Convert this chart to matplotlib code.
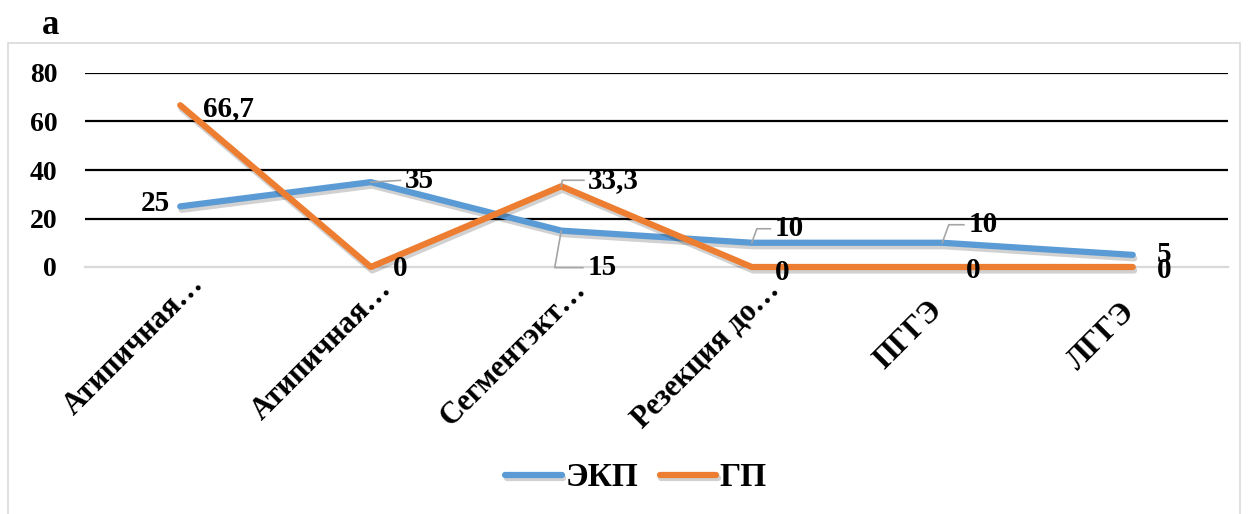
import matplotlib.pyplot as plt
import matplotlib.patheffects as pe
from matplotlib.patches import Rectangle
import matplotlib.transforms as mtransforms

plt.rcParams['font.family'] = ['Liberation Serif', 'DejaVu Serif']
plt.rcParams['font.weight'] = 'bold'

categories = ["Атипичная…", "Атипичная…", "Сегментэкт…", "Резекция до…", "ПГГЭ", "ЛГГЭ"]
ekp_values = [25, 35, 15, 10, 10, 5]
gp_values = [66.7, 0, 33.3, 0, 0, 0]
ekp_labels = ["25", "35", "15", "10", "10", "5"]
gp_labels = ["66,7", "0", "33,3", "0", "0", "0"]
y_ticks = [0, 20, 40, 60, 80]

blue = '#5B9BD5'
orange = '#ED7D31'

fig = plt.figure(figsize=(12.48, 5.14), dpi=100)
# outer chart frame
fig.patches.append(Rectangle((8 / 1248, -0.01), 1232 / 1248, 1 - 43 / 514 + 0.01,
                             transform=fig.transFigure, fill=False,
                             edgecolor='#D9D9D9', linewidth=1.2))
fig.text(51 / 1248, 1 - 26 / 514, "a", fontsize=25, fontweight='bold', ha='center', va='center')

ax = fig.add_axes([85 / 1248, 1 - 267 / 514, 1143 / 1248, 194 / 514])
x = list(range(len(categories)))
ax.set_xlim(-0.5, len(categories) - 0.5)
ax.set_ylim(0, 80)

for v in y_ticks[1:]:
    ax.axhline(v, color='black', linewidth=1.6, zorder=1)
ax.axhline(0, color='#D9D9D9', linewidth=1.6, zorder=1, clip_on=False)

shadow = [pe.SimpleLineShadow(offset=(1, -2.5), shadow_color='black', alpha=0.18), pe.Normal()]
ax.plot(x, ekp_values, color=blue, linewidth=4.5, solid_capstyle='round', label='ЭКП',
        clip_on=False, zorder=3, path_effects=shadow)
ax.plot(x, gp_values, color=orange, linewidth=4.5, solid_capstyle='round', label='ГП',
        clip_on=False, zorder=4, path_effects=shadow)

for s in ax.spines.values():
    s.set_visible(False)
ax.set_yticks(y_ticks)
ax.set_yticklabels([str(v) for v in y_ticks], fontsize=20, fontweight='bold')
ax.tick_params(axis='both', length=0)
ax.tick_params(axis='y', pad=20)
ax.set_xticks(x)
ax.set_xticklabels(categories, fontsize=22, fontweight='bold', rotation=45,
                   ha='right', va='center', rotation_mode='anchor')
ax.tick_params(axis='x', pad=0)
# per-label shift of the label end (px right, px down)
lbl_shift = [(19, 13), (17, 18), (20, 18), (23, 19), (-4, 39), (-2, 41)]
for lbl, (sx, sy) in zip(ax.get_xticklabels(), lbl_shift):
    off = mtransforms.ScaledTranslation(sx / 100, -sy / 100, fig.dpi_scale_trans)
    lbl.set_transform(lbl.get_transform() + off)


def leader(angle_b):
    if angle_b is None:
        return dict(arrowstyle='-', color='#A6A6A6', lw=1.2, shrinkA=1, shrinkB=0,
                    relpos=(0, 0.5))
    return dict(arrowstyle='-', color='#A6A6A6', lw=1.2, shrinkA=1, shrinkB=0, relpos=(0, 0.5),
                connectionstyle='angle,angleA=0,angleB=%d,rad=0' % angle_b)


# label offsets in pixels: (dx, dy, ha, leader)
ekp_offsets = [(-10, 3, 'right', None), (34, 2, 'left', leader(None)),
               (26, -37, 'left', leader(80)), (23, 14, 'left', leader(70)),
               (26, 18, 'left', leader(70)), (24, 0, 'left', None)]
gp_offsets = [(23, -3, 'left', None), (22, -2, 'left', None), (27, 6, 'left', leader(80)),
              (23, -5, 'left', None), (24, -3, 'left', None), (24, -3, 'left', None)]

for vals, labels, offs in [(ekp_values, ekp_labels, ekp_offsets), (gp_values, gp_labels, gp_offsets)]:
    for xi, v, t, (dx, dy, ha, ap) in zip(x, vals, labels, offs):
        ax.annotate(t, (xi, v), xytext=(dx, dy), textcoords='offset pixels',
                    ha=ha, va='center', fontsize=21, fontweight='bold', zorder=6,
                    arrowprops=ap, annotation_clip=False)

fig.legend(loc='center', bbox_to_anchor=(636 / 1248, 1 - 478 / 514), ncol=2, frameon=False,
           prop={'size': 24, 'weight': 'bold'}, handlelength=1.7, columnspacing=0.65,
           handletextpad=0.1)

fig.savefig('out.png', dpi=100)
